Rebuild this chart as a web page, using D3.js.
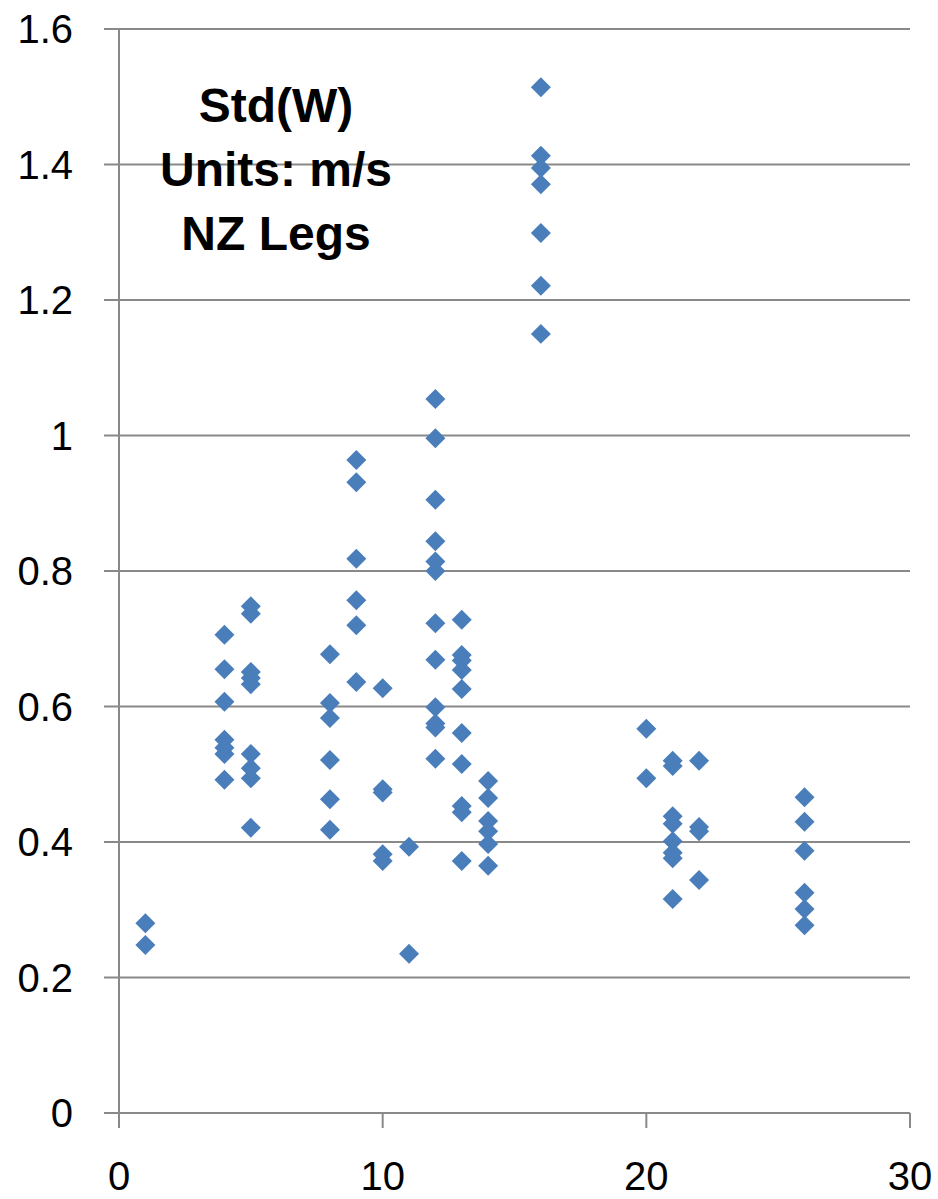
<!DOCTYPE html>
<html>
<head>
<meta charset="utf-8">
<script src="https://cdn.jsdelivr.net/npm/d3@7"></script>
<style>
  html, body { margin: 0; padding: 0; background: #fff; }
  svg { display: block; }
</style>
</head>
<body>
<svg id="chart" width="938" height="1199"></svg>
<script>
// Leg number (x) and the standard deviation of vertical wind, Std(W), in m/s for each leg
const legs = [1, 4, 5, 8, 9, 10, 11, 12, 13, 14, 16, 20, 21, 22, 26];
const stdW = [
  [0.280, 0.248],
  [0.706, 0.655, 0.607, 0.551, 0.539, 0.530, 0.492],
  [0.748, 0.737, 0.651, 0.642, 0.633, 0.530, 0.509, 0.494, 0.421],
  [0.677, 0.605, 0.583, 0.521, 0.463, 0.418],
  [0.964, 0.931, 0.818, 0.757, 0.720, 0.636],
  [0.627, 0.478, 0.473, 0.382, 0.372],
  [0.393, 0.235],
  [1.054, 0.996, 0.905, 0.844, 0.814, 0.800, 0.723, 0.669, 0.599, 0.575, 0.569, 0.523],
  [0.728, 0.676, 0.668, 0.654, 0.626, 0.561, 0.515, 0.453, 0.444, 0.372],
  [0.490, 0.465, 0.431, 0.416, 0.397, 0.365],
  [1.514, 1.413, 1.395, 1.371, 1.299, 1.221, 1.150],
  [0.567, 0.494],
  [0.520, 0.512, 0.438, 0.427, 0.401, 0.384, 0.376, 0.316],
  [0.520, 0.422, 0.416, 0.344],
  [0.466, 0.430, 0.387, 0.325, 0.301, 0.277]
];
const xTicks = [0, 10, 20, 30];
const yTicks = [0, 0.2, 0.4, 0.6, 0.8, 1, 1.2, 1.4, 1.6];
const titleLines = ["Std(W)", "Units: m/s", "NZ Legs"];

const points = legs.flatMap((leg, i) => stdW[i].map(v => ({ leg, v })));

const svg = d3.select("#chart");
const plotLeft = 119, plotRight = 910, plotTop = 29, plotBottom = 1113;
const tickLen = 15;
const gridColor = "#898989";
const labelFont = "'Liberation Sans', Arial, sans-serif";

const x = d3.scaleLinear().domain([0, 30]).range([plotLeft, plotRight]);
const y = d3.scaleLinear().domain([0, 1.6]).range([plotBottom, plotTop]);

// horizontal gridlines, each with a short outer tick on the left
svg.append("g").selectAll("line")
  .data(yTicks)
  .join("line")
  .attr("x1", plotLeft - tickLen)
  .attr("x2", plotRight)
  .attr("y1", d => y(d))
  .attr("y2", d => y(d))
  .attr("stroke", gridColor)
  .attr("stroke-width", 2);

// vertical axis line
svg.append("line")
  .attr("x1", plotLeft).attr("x2", plotLeft)
  .attr("y1", y(1.6)).attr("y2", plotBottom + tickLen)
  .attr("stroke", gridColor)
  .attr("stroke-width", 2);

// x tick marks below the axis
svg.append("g").selectAll("line")
  .data(xTicks)
  .join("line")
  .attr("x1", d => x(d)).attr("x2", d => x(d))
  .attr("y1", plotBottom).attr("y2", plotBottom + tickLen)
  .attr("stroke", gridColor)
  .attr("stroke-width", 2);

// y tick labels
svg.append("g").selectAll("text")
  .data(yTicks)
  .join("text")
  .attr("x", 73)
  .attr("y", d => y(d))
  .attr("dy", "0.36em")
  .attr("text-anchor", "end")
  .attr("font-family", labelFont)
  .attr("font-size", 40)
  .attr("fill", "#000")
  .text(d => d === 0 ? "0" : (d === 1 ? "1" : d3.format(".1f")(d)));

// x tick labels
svg.append("g").selectAll("text")
  .data(xTicks)
  .join("text")
  .attr("x", d => x(d))
  .attr("y", 1190)
  .attr("text-anchor", "middle")
  .attr("font-family", labelFont)
  .attr("font-size", 40)
  .attr("fill", "#000")
  .text(d => d);

// diamond markers
const diamond = d3.symbol().type(d3.symbolSquare).size(200);
svg.append("g").selectAll("path")
  .data(points)
  .join("path")
  .attr("d", diamond)
  .attr("transform", d => `translate(${x(d.leg)},${y(d.v)}) rotate(45)`)
  .attr("fill", "#4A7EBB");

// chart annotation
svg.append("g").selectAll("text")
  .data(titleLines)
  .join("text")
  .attr("x", 276)
  .attr("y", (d, i) => 122 + i * 64)
  .attr("text-anchor", "middle")
  .attr("font-family", labelFont)
  .attr("font-weight", "bold")
  .attr("font-size", 48)
  .attr("fill", "#000")
  .text(d => d);
</script>
</body>
</html>
